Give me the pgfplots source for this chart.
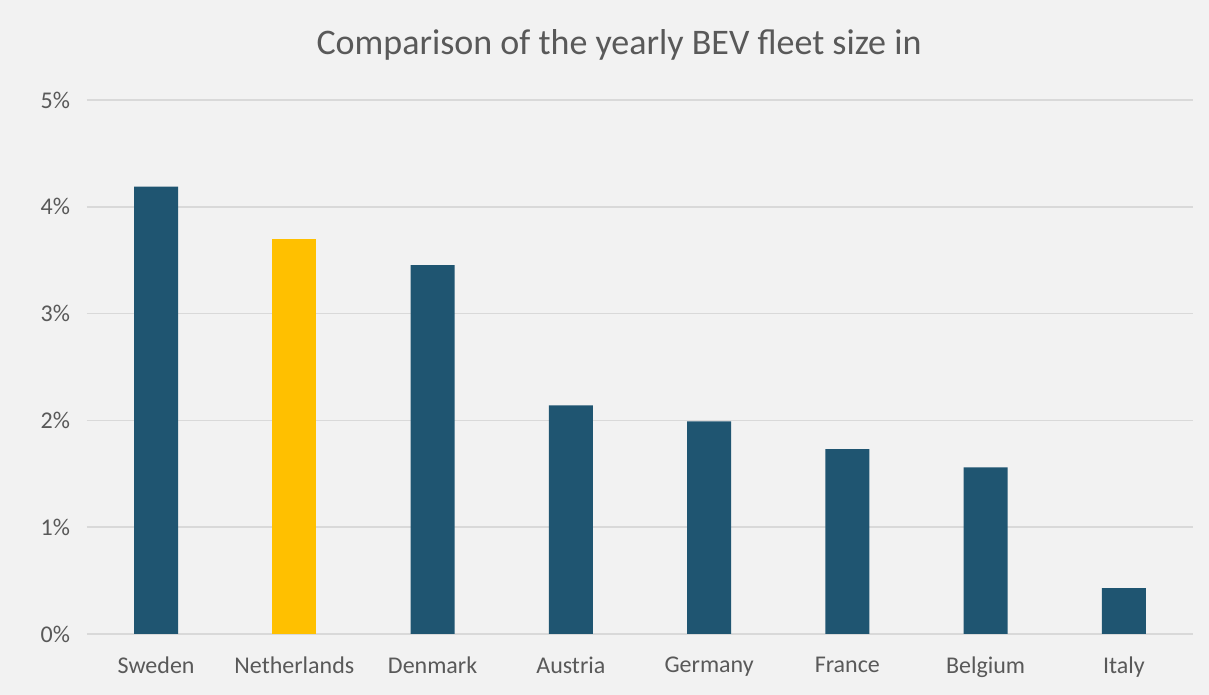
\documentclass[border=0pt]{standalone}
\usepackage{pgfplots}
\pgfplotsset{compat=1.18}
\usepackage{fontspec}
\setmainfont{Carlito}
\definecolor{bg}{HTML}{F2F2F2}
\definecolor{barblue}{HTML}{1F5571}
\definecolor{baryellow}{HTML}{FFC000}
\definecolor{txt}{HTML}{595959}
\definecolor{grid}{HTML}{D9D9D9}
\begin{document}
\begin{tikzpicture}
\path[use as bounding box, fill=bg] (-43.5pt,-30.5pt) rectangle (561pt,317pt);
\begin{axis}[
  at={(0,0)}, anchor=south west,
  scale only axis, width=553pt, height=267pt,
  xmin=-0.5, xmax=7.5, ymin=0, ymax=5,
  axis line style={draw=none},
  xtick={0,...,7},
  xticklabels={Sweden,Netherlands,Denmark,Austria,Germany,France,Belgium,Italy},
  ytick={0,1,2,3,4,5},
  yticklabels={0\%,1\%,2\%,3\%,4\%,5\%},
  major tick length=0pt,
  ymajorgrids, grid style={draw=grid, line width=0.8pt},
  tick label style={font=\fontsize{12}{14}\selectfont, text=txt},
  xticklabel style={yshift=-8pt},
  yticklabel style={xshift=-5pt},
  ybar, bar width=22pt, bar shift=0pt,
  clip=false,
]
\addplot[fill=barblue, draw=none] coordinates {(0,4.19) (2,3.455) (3,2.14) (4,1.99) (5,1.73) (6,1.56) (7,0.43)};
\addplot[fill=baryellow, draw=none] coordinates {(1,3.70)};
\end{axis}
\node[text=txt, font=\fontsize{18}{21}\selectfont] at (266pt,294.5pt) {Comparison of the yearly BEV fleet size in};
\end{tikzpicture}
\end{document}
